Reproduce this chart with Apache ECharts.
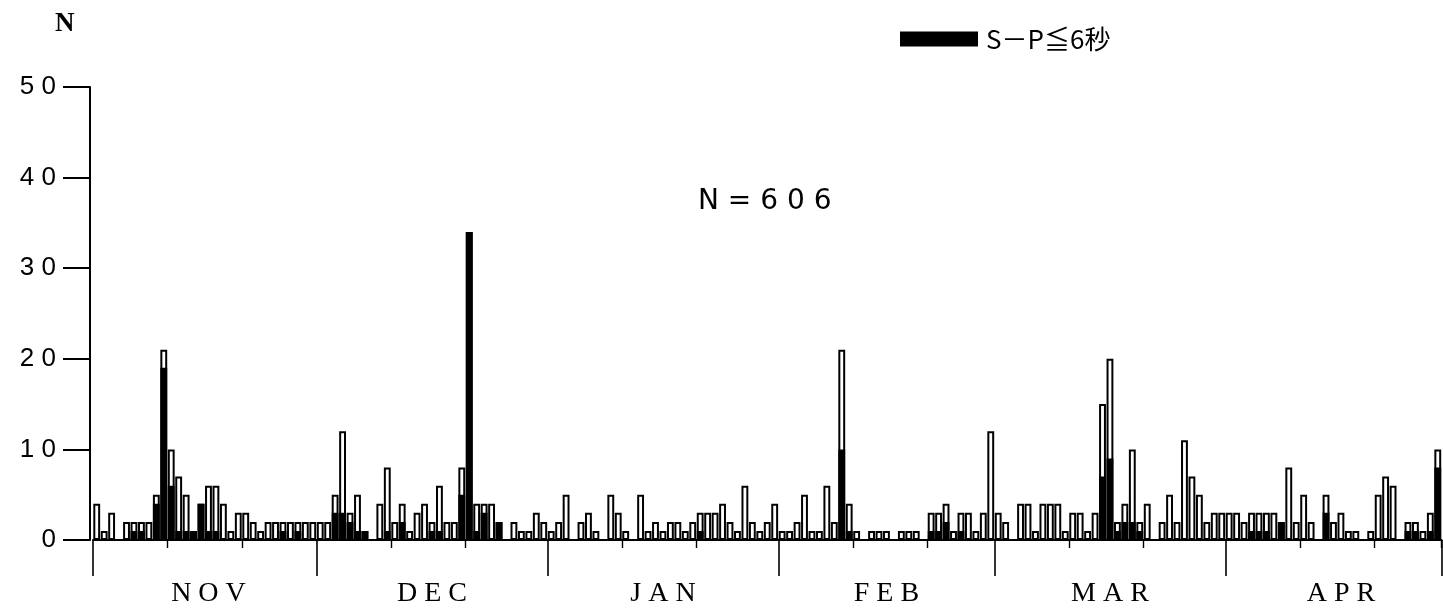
<!DOCTYPE html>
<html><head><meta charset="utf-8">
<script src="https://cdn.jsdelivr.net/npm/echarts@6/dist/echarts.min.js"></script>
<style>html,body{margin:0;padding:0;background:#fff}#c{width:1443px;height:612px}</style>
</head><body><div id="c"></div>
<script>
// Month names (tick labels) and full month lengths
const monthNames = ['NOV','DEC','JAN','FEB','MAR','APR'];
const monthFullDays = [30,31,31,29,31,30];
// Daily counts, all events (APR is cut off at the right edge after day 29)
const novAll = [4,1,3,0,2,2,2,2,5,21,10,7,5,1,4,6,6,4,1,3,3,2,1,2,2,2,2,2,2,2];
const decAll = [2,2,5,12,3,5,1,0,4,8,2,4,1,3,4,2,6,2,2,8,34,4,4,4,2,0,2,1,1,3,2];
const janAll = [1,2,5,0,2,3,1,0,5,3,1,0,5,1,2,1,2,2,1,2,3,3,3,4,2,1,6,2,1,2,4];
const febAll = [1,1,2,5,1,1,6,2,21,4,1,0,1,1,1,0,1,1,1,0,3,3,4,1,3,3,1,3,12];
const marAll = [3,2,0,4,4,1,4,4,4,1,3,3,1,3,15,20,2,4,10,2,4,0,2,5,2,11,7,5,2,3,3];
const aprAll = [3,3,2,3,3,3,3,2,8,2,5,2,0,5,2,3,1,1,0,1,5,7,6,0,2,2,1,3,10];
// Daily counts with S-P <= 6 s
const novSP = [0,0,0,0,0,1,1,0,4,19,6,1,1,1,4,1,1,0,0,0,0,0,0,0,0,1,0,1,0,0];
const decSP = [0,0,3,3,2,1,1,0,0,1,0,2,0,0,0,1,1,0,0,5,34,1,3,0,2,0,0,0,0,0,0];
const janSP = [0,0,0,0,0,0,0,0,0,0,0,0,0,0,0,0,0,0,0,0,1,0,0,0,0,0,0,0,0,0,0];
const febSP = [0,0,0,0,0,0,0,0,10,1,0,0,0,0,0,0,0,0,0,0,1,1,2,0,1,0,0,0,0];
const marSP = [0,0,0,0,0,0,0,0,0,0,0,0,0,0,7,9,1,2,2,1,0,0,0,0,0,0,0,0,0,0,0];
const aprSP = [0,0,0,1,1,1,0,2,0,0,0,0,0,3,0,0,0,0,0,0,0,0,0,0,1,1,0,1,8];
const yTicks = [0,10,20,30,40,50];

const allMonths = [novAll,decAll,janAll,febAll,marAll,aprAll];
const spMonths = [novSP,decSP,janSP,febSP,marSP,aprSP];
const totals = [].concat(...allMonths);
const blacks = [].concat(...spMonths);
const categories = [];
const monthStart = [];
const midIdx = {};
const minorIdx = new Set();
let k = 0;
allMonths.forEach((m, mi) => {
  monthStart.push(k);
  midIdx[k + Math.round((monthFullDays[mi]-1)/2)] = monthNames[mi];
  minorIdx.add(k+10); minorIdx.add(k+20);
  m.forEach((v, d) => { categories.push(monthNames[mi] + ' ' + (d+1)); });
  k += m.length;
});
const startSet = new Set(monthStart);
const spaced = s => String(s).split('').join(' ');

const chart = echarts.init(document.getElementById('c'));
chart.setOption({
  backgroundColor: '#fff',
  animation: false,
  title: [
    {text: 'N', left: 50, top: 6, textStyle: {fontFamily: 'Liberation Serif', fontSize: 27, fontWeight: 'bold', color: '#000'}},
    {text: 'N = 6 0 6', left: 693, top: 183, textStyle: {fontFamily: 'DejaVu Sans', fontSize: 28, fontWeight: 'normal', color: '#000'}}
  ],
  legend: {
    data: ['S－P≦6秒'], left: 895, top: 21, icon: 'rect', itemWidth: 76, itemHeight: 13, itemGap: 10,
    textStyle: {fontFamily: 'Noto Sans CJK JP', fontSize: 26, color: '#000', padding: [0,0,0,4]}
  },
  grid: {left: 93, right: 1.5, top: 87, bottom: 72},
  xAxis: [
    {
      type: 'category', data: categories, boundaryGap: true,
      axisLine: {show: true, lineStyle: {color: '#000', width: 2}},
      axisTick: {show: true, length: 36, lineStyle: {color: '#000', width: 1.6}, interval: (i) => startSet.has(i)},
      axisLabel: {show: true, interval: (i) => midIdx[i] !== undefined, formatter: (v, i) => spaced(midIdx[i] || ''),
        margin: 40, fontFamily: 'Liberation Serif', fontSize: 28, color: '#000'},
      splitLine: {show: false}
    },
    {
      type: 'category', data: categories, boundaryGap: true, position: 'bottom',
      axisLine: {show: false},
      axisTick: {show: true, length: 8, lineStyle: {color: '#000', width: 1.4}, interval: (i) => minorIdx.has(i)},
      axisLabel: {show: false}, splitLine: {show: false}
    }
  ],
  yAxis: {
    type: 'value', min: 0, max: 50, interval: 10, offset: 3,
    axisLine: {show: true, lineStyle: {color: '#000', width: 2}},
    axisTick: {show: true, length: 27, lineStyle: {color: '#000', width: 2}},
    axisLabel: {margin: 34, fontFamily: 'Liberation Sans', fontSize: 26, color: '#000',
      formatter: (v) => yTicks.indexOf(v) >= 0 ? spaced(v) : ''},
    splitLine: {show: false}
  },
  series: [
    {name: 'total', type: 'bar', xAxisIndex: 0, data: totals, barCategoryGap: '8%', barGap: '-100%',
      itemStyle: {color: '#fff', borderColor: '#000', borderWidth: 2}},
    {name: 'S－P≦6秒', type: 'bar', xAxisIndex: 0, data: blacks, barCategoryGap: '8%', barGap: '-100%',
      itemStyle: {color: '#000', borderColor: '#000', borderWidth: 2}}
  ]
});
</script></body></html>
